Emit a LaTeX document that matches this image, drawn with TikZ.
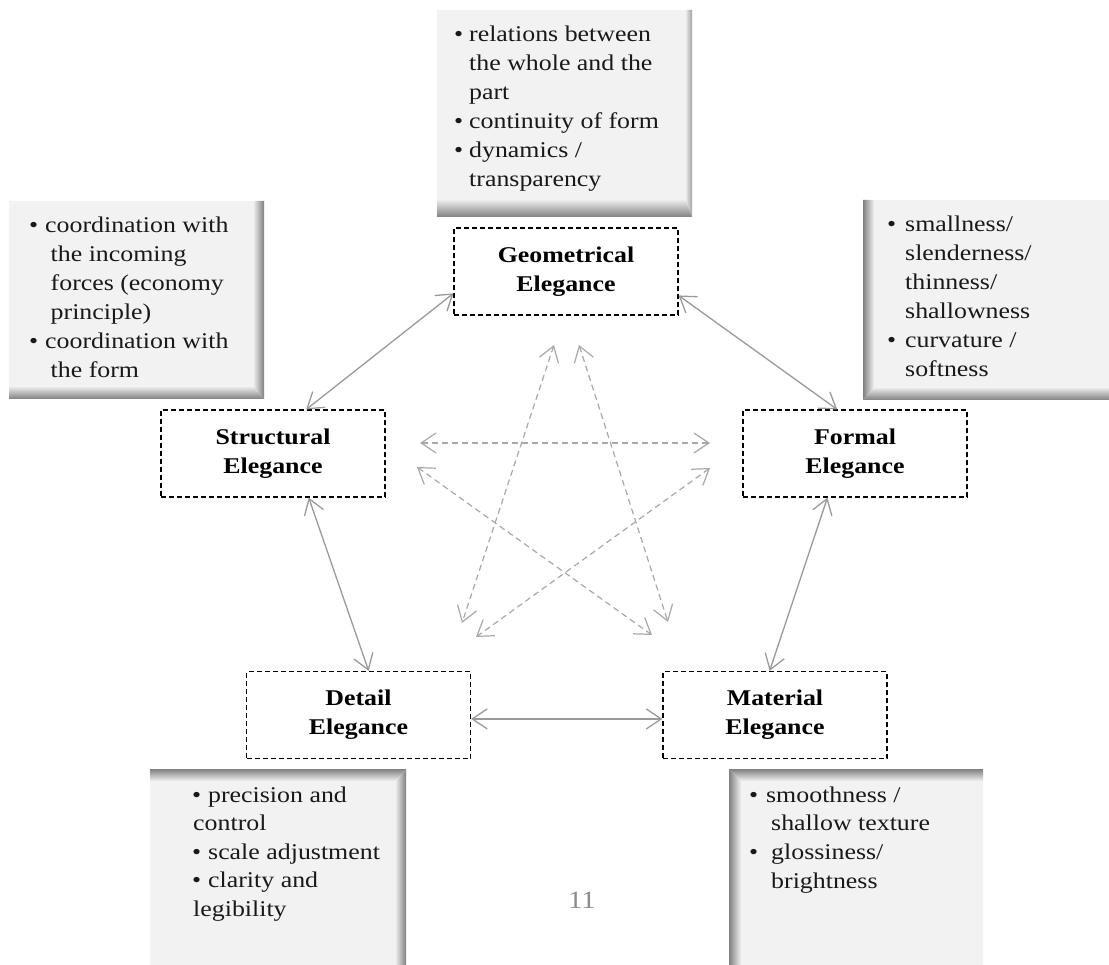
\documentclass[tikz,border=0pt]{standalone}
\usepackage{fontspec}
\setmainfont[FakeStretch=1.15]{Liberation Serif}
\usetikzlibrary{arrows.meta}
\definecolor{boxfill}{HTML}{F2F2F2}
\definecolor{shd}{HTML}{808080}
\definecolor{arrgray}{HTML}{9A9A9A}
\definecolor{stargray}{HTML}{A8A8A8}
\definecolor{pagenum}{HTML}{8C8C8C}
\begin{document}
\begin{tikzpicture}[x=1pt,y=-1pt,
  elbox/.style={draw=black, dash pattern=on 5pt off 3pt, line width=1.1pt,
    minimum width=224pt, minimum height=87pt, inner sep=0pt, align=center,
    font=\fontsize{22.5}{29}\selectfont\bfseries},
  barb/.tip={Straight Barb[length=15pt,width=20pt]},
  solidarr/.style={draw=arrgray, line width=1.3pt, barb-barb},
  stararr/.style={draw=stargray, line width=1.2pt, dash pattern=on 6pt off 4pt, barb-barb},
  bodytext/.style={anchor=base west, inner sep=0pt, text=black!90, font=\fontsize{22.5}{29}\selectfont},
  graybox/.style={fill=boxfill}
]
\useasboundingbox (0,0) rectangle (1109,965);
\fill[white] (0,0) rectangle (1109,965);

% ---- shaded info boxes ----
% top
\fill[graybox] (437,10) rectangle (692,217);
\shade[left color=boxfill, right color=shd!70!boxfill] (685,10) -- (692,10) -- (692,217) -- (685,199) -- cycle;
\shade[top color=boxfill, bottom color=shd] (437,199) -- (685,199) -- (692,217) -- (437,217) -- cycle;
% left top
\fill[graybox] (9,201) rectangle (264,399);
\shade[left color=boxfill, right color=shd] (253,201) -- (264,201) -- (264,399) -- (253,386) -- cycle;
\shade[top color=boxfill, bottom color=shd] (9,386) -- (253,386) -- (264,399) -- (9,399) -- cycle;
% right top
\fill[graybox] (863,200) rectangle (1109,400);
\shade[left color=shd, right color=boxfill] (863,200) -- (874,200) -- (874,387) -- (863,400) -- cycle;
\shade[top color=boxfill, bottom color=shd] (874,387) -- (1109,387) -- (1109,400) -- (863,400) -- cycle;
% bottom left
\fill[graybox] (150,769) rectangle (406,965);
\shade[top color=shd, bottom color=boxfill] (150,769) -- (406,769) -- (395,781) -- (150,781) -- cycle;
\shade[left color=boxfill, right color=shd] (395,781) -- (406,769) -- (406,965) -- (395,965) -- cycle;
% bottom right
\fill[graybox] (729,769) rectangle (983,965);
\shade[top color=shd, bottom color=boxfill] (729,769) -- (983,769) -- (983,781) -- (741,781) -- cycle;
\shade[left color=shd, right color=boxfill] (729,769) -- (741,781) -- (741,965) -- (729,965) -- cycle;

% ---- texts of info boxes ----
\node[bodytext] (ttop) at (454,42) {\parbox[t]{240pt}{\raggedright
\makebox[15pt][l]{•}relations between\\
\hspace*{15pt}the whole and the\\
\hspace*{15pt}part\\
\makebox[15pt][l]{•}continuity of form\\
\makebox[15pt][l]{•}dynamics /\\
\hspace*{15pt}transparency}};

\node[bodytext] (tleft) at (29,233) {\parbox[t]{240pt}{\raggedright
\makebox[16pt][l]{•}coordination with\\
\hspace*{21.5pt}the incoming\\
\hspace*{21.5pt}forces (economy\\
\hspace*{21.5pt}principle)\\
\makebox[16pt][l]{•}coordination with\\
\hspace*{21.5pt}the form}};

\node[bodytext] (tright) at (887,232) {\parbox[t]{220pt}{\raggedright
\makebox[18pt][l]{•}smallness/\\
\hspace*{18pt}slenderness/\\
\hspace*{18pt}thinness/\\
\hspace*{18pt}shallowness\\
\makebox[18pt][l]{•}curvature /\\
\hspace*{18pt}softness}};

\node[bodytext] (tbl) at (192,802) {\parbox[t]{220pt}{\raggedright\baselineskip=28.5pt
\makebox[16pt][l]{•}precision and\\
\hspace*{1pt}control\\
\makebox[16pt][l]{•}scale adjustment\\
\makebox[16pt][l]{•}clarity and\\
\hspace*{1pt}legibility}};

\node[bodytext] (tbr) at (749,802) {\parbox[t]{230pt}{\raggedright\baselineskip=28.7pt
\makebox[17pt][l]{•}smoothness /\\
\hspace*{22pt}shallow texture\\
\makebox[22pt][l]{•}glossiness/\\
\hspace*{22pt}brightness}};

\node[anchor=base, inner sep=0pt, text=pagenum, font=\fontsize{25}{30}\selectfont] (pnum) at (582,908) {11};

% ---- dashed concept boxes ----
\node[elbox] (geo) at (566,271.5) {Geometrical\\Elegance};
\node[elbox] (str) at (273,453.5) {Structural\\Elegance};
\node[elbox] (frm) at (855,453.5) {Formal\\Elegance};
\node[elbox] (det) at (358.5,715) {Detail\\Elegance};
\node[elbox] (mat) at (775,715) {Material\\Elegance};

% ---- solid connectors ----
\draw[solidarr] (geo.191.7) -- (str.53.7);
\draw[solidarr] (geo.348.2) -- (frm.112.5);
\draw[solidarr] (str.309.6) -- (det.77.5);
\draw[solidarr] (frm.238.2) -- (mat.97.9);
\draw[solidarr] (det.-2.5) -- (mat.182.5);

% ---- star of dashed connectors ----
\coordinate (h1) at (420,443);
\coordinate (h2) at (710,443);
\coordinate (a1) at (417,467);
\coordinate (a2) at (652,635);
\coordinate (b1) at (710,468);
\coordinate (b2) at (476,637);
\coordinate (c1) at (554,345);
\coordinate (c2) at (462,623);
\coordinate (d1) at (579,345);
\coordinate (d2) at (668,622);
\draw[stararr] (h1) -- (h2);
\draw[stararr] (a1) -- (a2);
\draw[stararr] (b1) -- (b2);
\draw[stararr] (c1) -- (c2);
\draw[stararr] (d1) -- (d2);
\end{tikzpicture}
\end{document}
